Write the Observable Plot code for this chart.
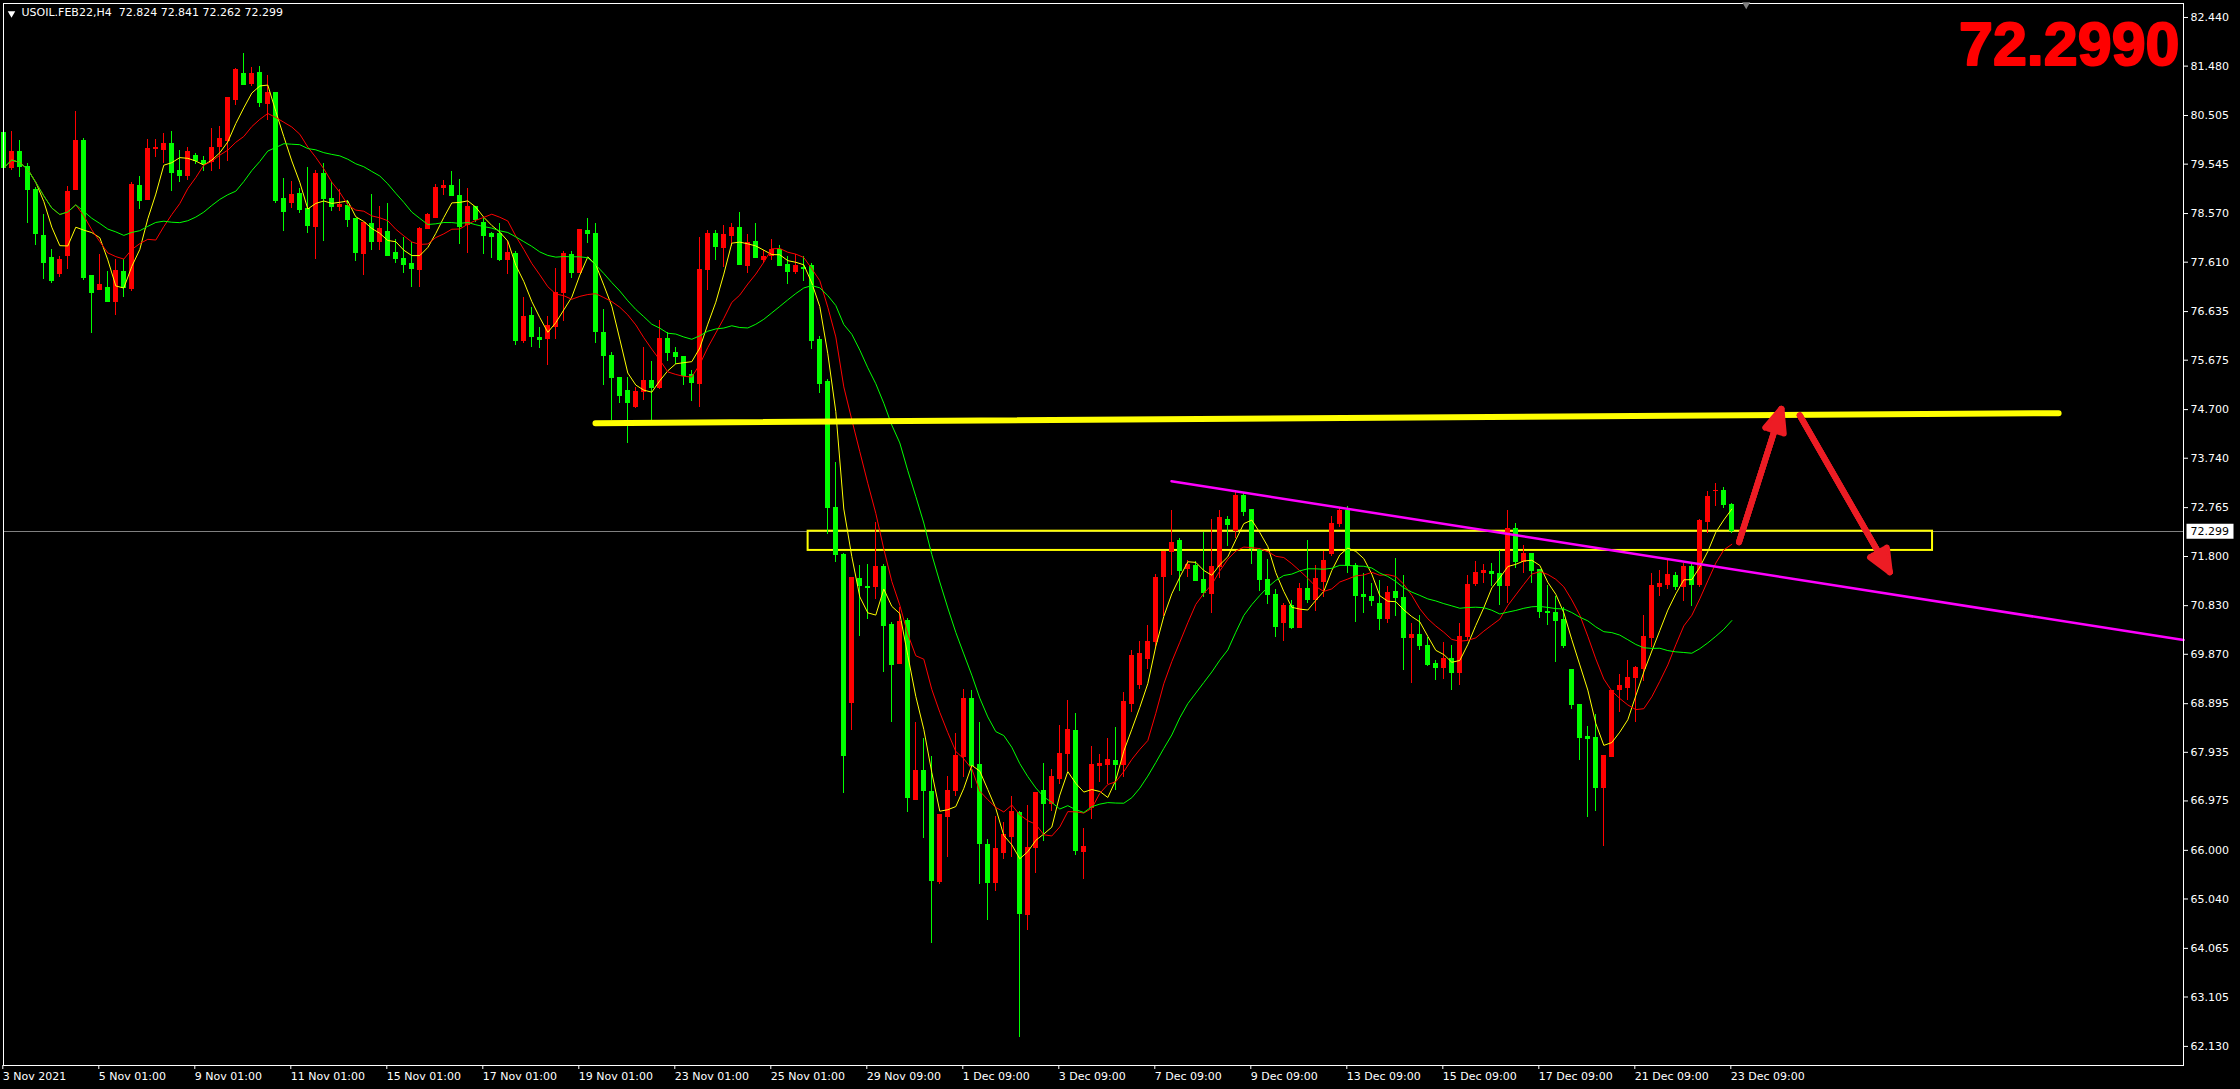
<!DOCTYPE html>
<html>
<head>
<meta charset="utf-8">
<script src="https://cdn.jsdelivr.net/npm/d3@7"></script>
<script src="https://cdn.jsdelivr.net/npm/@observablehq/plot@0.6"></script>
<style>
  html, body { margin: 0; padding: 0; background: #000; }
</style>
</head>
<body>
<div id="chart"></div>
<script>
// USOIL.FEB22 H4 candles, 3 Nov 2021 -> 23 Dec 2021 09:00
const opens = [
  80.16, 79.47, 79.78, 79.48, 79.03, 78.12, 77.70, 77.37, 77.73, 79.03,
  80.01, 77.33, 77.06, 77.11, 76.82, 77.41, 77.08, 79.12, 78.83, 79.84,
  79.82, 79.95, 79.40, 79.32, 79.70, 79.60, 79.58, 79.89, 80.01, 80.82,
  81.33, 81.12, 81.35, 80.73, 80.94, 78.85, 78.77, 78.95, 78.65, 78.30,
  79.36, 78.85, 78.70, 78.71, 78.47, 77.78, 78.37, 78.00, 78.20, 77.80,
  77.68, 77.57, 77.45, 78.26, 78.49, 79.07, 79.12, 78.91, 78.35, 78.69,
  78.39, 78.16, 78.16, 77.66, 77.78, 76.06, 76.54, 76.12, 76.09, 76.33,
  77.00, 77.76, 77.39, 78.22, 78.16, 76.22, 75.75, 75.33, 75.06, 74.76,
  75.05, 75.26, 75.12, 76.10, 75.81, 75.73, 75.39, 75.21, 77.45, 78.16,
  77.89, 78.12, 78.28, 77.53, 78.00, 77.66, 77.74, 77.86, 77.56, 77.41,
  77.49, 77.53, 76.08, 75.24, 72.75, 71.82, 68.90, 71.36, 71.20, 71.20,
  71.60, 70.45, 69.68, 70.52, 66.99, 67.56, 67.16, 65.37, 66.65, 67.17,
  67.84, 68.98, 67.69, 66.11, 65.35, 65.95, 66.27, 66.73, 64.73, 66.05,
  67.17, 66.92, 67.41, 67.90, 68.35, 65.96, 66.84, 67.67, 67.69, 67.76,
  67.69, 68.88, 69.26, 69.78, 70.12, 71.39, 71.88, 72.10, 71.55, 71.62,
  71.33, 71.06, 71.59, 72.53, 72.31, 72.985, 72.71, 71.92, 71.33, 71.05,
  70.48, 70.82, 70.39, 71.15, 70.95, 71.29, 71.84, 72.45, 72.69, 71.62,
  71.05, 71.01, 70.87, 70.56, 71.09, 70.98, 70.19, 70.26, 70.04, 69.67,
  69.60, 69.77, 69.50, 70.21, 71.25, 71.47, 71.50, 71.46, 71.21, 72.35,
  71.70, 71.85, 71.54, 70.71, 70.69, 70.54, 69.56, 68.86, 68.23, 68.21,
  67.23, 67.85, 69.16, 69.21, 69.40, 69.57, 70.19, 71.19, 71.23, 71.41,
  71.20, 71.60, 71.23, 72.48, 73.09, 73.10, 72.824
];
const highs = [
  80.24, 80.19, 80.01, 79.55, 79.09, 78.55, 77.87, 77.72, 79.11, 80.58,
  80.06, 77.33, 77.76, 77.43, 77.66, 77.66, 79.19, 79.31, 80.03, 80.03,
  80.15, 80.19, 79.82, 79.87, 79.76, 79.70, 80.25, 80.29, 80.87, 81.43,
  81.73, 81.45, 81.47, 81.30, 80.94, 79.26, 79.20, 79.07, 79.48, 79.42,
  79.56, 79.18, 79.05, 78.83, 78.47, 78.39, 78.95, 78.71, 78.77, 78.06,
  78.10, 78.00, 78.30, 78.57, 79.14, 79.22, 79.40, 79.24, 79.07, 78.69,
  78.47, 78.19, 78.37, 78.02, 77.82, 76.91, 76.71, 76.33, 76.54, 77.48,
  77.83, 77.83, 78.24, 78.47, 78.37, 76.67, 75.83, 75.33, 75.34, 75.14,
  75.93, 75.64, 76.46, 76.22, 75.93, 75.73, 75.47, 78.09, 78.24, 78.24,
  78.33, 78.37, 78.59, 78.16, 78.38, 77.84, 78.06, 77.94, 77.72, 77.76,
  77.72, 77.58, 76.14, 75.30, 73.66, 71.86, 71.37, 71.63, 71.64, 72.47,
  71.64, 70.49, 70.80, 70.57, 68.52, 68.20, 67.85, 66.69, 67.46, 68.30,
  69.17, 69.16, 68.52, 66.22, 66.67, 66.54, 67.07, 66.76, 66.88, 67.14,
  67.71, 67.59, 68.46, 68.95, 68.71, 66.44, 68.05, 67.90, 68.20, 68.43,
  69.11, 69.95, 70.12, 70.44, 71.45, 71.90, 72.71, 72.16, 71.72, 71.71,
  72.28, 72.54, 72.71, 72.58, 73.10, 73.07, 72.71, 71.95, 71.75, 71.14,
  70.87, 70.94, 71.27, 72.12, 71.62, 71.89, 72.58, 72.74, 72.79, 71.66,
  71.46, 71.26, 71.33, 71.21, 71.77, 71.42, 70.47, 70.64, 70.21, 69.75,
  70.11, 70.04, 70.47, 71.43, 71.70, 71.64, 71.67, 71.92, 72.71, 72.45,
  72.02, 71.85, 71.54, 71.23, 71.01, 70.80, 69.56, 68.86, 68.44, 68.68,
  67.87, 69.14, 69.47, 69.75, 69.62, 70.64, 71.46, 71.52, 71.73, 71.49,
  71.66, 71.64, 72.53, 73.08, 73.25, 73.17, 72.841
];
const lows = [
  79.42, 79.41, 79.29, 78.38, 77.94, 77.26, 77.18, 77.30, 77.47, 79.03,
  77.24, 76.20, 77.06, 76.82, 76.55, 76.92, 77.04, 78.65, 78.83, 79.67,
  79.56, 79.01, 79.19, 79.23, 79.54, 79.39, 79.39, 79.43, 79.60, 80.71,
  81.10, 81.08, 80.67, 80.41, 78.76, 78.22, 78.66, 78.57, 78.18, 77.66,
  78.02, 78.61, 78.62, 78.30, 77.63, 77.35, 77.84, 77.84, 77.74, 77.58,
  77.39, 77.11, 77.11, 78.26, 78.49, 78.93, 78.91, 77.96, 77.78, 78.39,
  77.76, 77.68, 77.62, 77.37, 75.97, 76.01, 75.93, 75.90, 75.57, 76.08,
  76.43, 77.29, 77.39, 77.97, 76.01, 75.18, 74.49, 74.83, 74.04, 74.72,
  74.87, 74.49, 75.10, 75.64, 75.59, 75.18, 74.85, 74.75, 77.05, 77.64,
  77.50, 77.91, 77.55, 77.39, 77.69, 77.59, 77.64, 77.53, 77.16, 77.37,
  77.22, 75.88, 75.01, 72.24, 71.69, 67.13, 68.37, 70.22, 70.56, 70.96,
  69.51, 68.52, 69.68, 66.74, 66.99, 66.23, 64.16, 65.33, 65.86, 67.07,
  67.44, 67.22, 65.33, 64.61, 65.18, 65.82, 65.86, 62.30, 64.42, 65.55,
  66.17, 66.76, 67.29, 67.56, 65.89, 65.43, 66.60, 67.33, 67.29, 67.18,
  67.44, 68.73, 69.18, 69.57, 70.01, 70.62, 71.42, 71.10, 71.38, 71.31,
  71.00, 70.68, 71.36, 71.99, 72.15, 72.58, 71.64, 71.10, 70.85, 70.21,
  70.13, 70.36, 70.39, 70.88, 70.72, 71.00, 71.80, 72.37, 71.46, 70.50,
  70.67, 70.82, 70.33, 70.48, 70.62, 69.55, 69.29, 69.94, 69.63, 69.35,
  69.37, 69.16, 69.25, 70.14, 71.20, 71.26, 71.20, 70.83, 70.87, 71.57,
  71.46, 71.27, 70.58, 70.44, 69.70, 69.98, 68.79, 67.77, 66.64, 66.77,
  66.08, 67.83, 68.73, 68.96, 68.52, 69.34, 70.01, 71.01, 71.14, 71.12,
  70.91, 70.81, 71.18, 72.26, 72.79, 72.75, 72.262
];
const closes = [
  79.47, 79.78, 79.48, 79.03, 78.16, 77.59, 77.24, 77.66, 79.00, 80.01,
  77.30, 77.00, 77.15, 76.82, 77.43, 77.10, 79.13, 78.82, 79.85, 79.87,
  79.95, 79.38, 79.32, 79.78, 79.60, 79.55, 79.87, 80.05, 80.85, 81.41,
  81.10, 81.33, 80.75, 80.94, 78.81, 78.61, 78.93, 78.63, 78.32, 79.36,
  78.85, 78.69, 78.74, 78.45, 77.80, 78.39, 78.00, 78.26, 77.74, 77.68,
  77.55, 77.47, 78.26, 78.54, 79.07, 79.12, 78.91, 78.31, 78.69, 78.45,
  78.12, 78.10, 77.66, 77.80, 76.06, 76.52, 76.13, 76.07, 76.35, 77.01,
  77.78, 77.39, 78.24, 78.16, 76.23, 75.76, 75.32, 74.97, 74.83, 75.04,
  75.26, 75.12, 76.10, 75.81, 75.73, 75.37, 75.22, 77.45, 78.16, 77.90,
  78.14, 78.28, 77.55, 77.99, 77.69, 77.72, 77.85, 77.53, 77.41, 77.53,
  77.47, 76.06, 75.20, 72.75, 71.82, 67.86, 71.37, 71.22, 71.17, 71.60,
  70.43, 69.66, 70.51, 67.03, 67.56, 67.18, 65.40, 66.69, 67.18, 67.87,
  68.98, 67.67, 66.12, 65.35, 66.02, 66.30, 66.76, 64.74, 66.05, 67.14,
  66.92, 67.44, 67.90, 68.37, 65.98, 66.06, 67.69, 67.71, 67.78, 67.69,
  68.92, 69.84, 69.88, 70.12, 71.37, 71.88, 72.07, 71.52, 71.64, 71.31,
  71.08, 71.60, 72.56, 72.42, 72.985, 72.68, 71.95, 71.33, 71.04, 70.40,
  70.83, 70.39, 71.15, 70.95, 71.35, 71.72, 72.45, 72.69, 71.62, 71.03,
  71.00, 70.92, 70.56, 71.08, 70.98, 70.19, 70.26, 70.04, 69.65, 69.60,
  69.77, 69.50, 70.22, 71.23, 71.48, 71.52, 71.45, 71.21, 72.35, 71.70,
  71.85, 71.52, 70.70, 70.68, 70.52, 70.03, 68.86, 68.21, 68.19, 67.23,
  67.87, 69.14, 69.24, 69.41, 69.60, 70.21, 71.21, 71.26, 71.43, 71.20,
  71.60, 71.23, 72.50, 72.97, 73.10, 72.81, 72.299
];

// time axis: a label every 12 bars
const tickBars = [0, 12, 24, 36, 48, 60, 72, 84, 96, 108, 120, 132, 144, 156, 168, 180, 192, 204, 216];
const tickLabels = [
  "3 Nov 2021", "5 Nov 01:00", "9 Nov 01:00", "11 Nov 01:00", "15 Nov 01:00",
  "17 Nov 01:00", "19 Nov 01:00", "23 Nov 01:00", "25 Nov 01:00", "29 Nov 09:00",
  "1 Dec 09:00", "3 Dec 09:00", "7 Dec 09:00", "9 Dec 09:00", "13 Dec 09:00",
  "15 Dec 09:00", "17 Dec 09:00", "21 Dec 09:00", "23 Dec 09:00"
];
const priceTicks = [
  82.44, 81.48, 80.505, 79.545, 78.57, 77.61, 76.635, 75.675, 74.7, 73.74, 72.765,
  71.8, 70.83, 69.87, 68.895, 67.935, 66.975, 66.0, 65.04, 64.065, 63.105, 62.13
];

// drawn objects (bar index, price)
const resistance = [{bar: 73.96, price: 74.432}, {bar: 256.85, price: 74.629}];
const trendline = [{bar: 145.96, price: 73.287}, {bar: 272.46, price: 70.15}];
const zone = [{bar1: 100.54, bar2: 241.09, top: 72.30, bottom: 71.92}];
const arrows = [
  {bar1: 216.9, p1: 72.083, bar2: 222.2, p2: 74.716},
  {bar1: 224.5, p1: 74.584, bar2: 235.75, p2: 71.49}
];
const shiftMarker = [217.8];

const title = "USOIL.FEB22,H4  72.824 72.841 72.262 72.299";
const lastPrice = closes[closes.length - 1];

const candles = d3.range(closes.length).map(i => ({
  i, open: opens[i], high: highs[i], low: lows[i], close: closes[i]
}));
const candleColor = d => d.close >= d.open ? "#ff0000" : "#00ff00";
const labelOf = new Map(tickBars.map((b, k) => [b, tickLabels[k]]));

// white price tag on the axis
const tagSymbol = {draw(ctx) { ctx.rect(-23.5, -7.5, 47, 15); }};

const arrowHeads = [46, 32, 18];

let chart = Plot.plot({
  width: 2240,
  height: 1089,
  marginLeft: 3,
  marginTop: 3,
  marginRight: 57,
  marginBottom: 24,
  style: {background: "#000", color: "#fff", fontFamily: "DejaVu Sans", fontSize: "11px"},
  x: {type: "linear", domain: [-0.0375, 272.46], axis: null},
  y: {domain: [61.753, 82.716], axis: null},
  color: {type: "identity"},
  marks: [
    Plot.ruleY([lastPrice], {stroke: "#808080", strokeWidth: 1, shapeRendering: "crispEdges"}),
    Plot.rect(zone, {x1: "bar1", x2: "bar2", y1: "top", y2: "bottom", fill: "none", stroke: "#ffff00", strokeWidth: 2}),
    // candles
    Plot.ruleX(candles, {x: "i", y1: "low", y2: "high", stroke: candleColor, strokeWidth: 1, shapeRendering: "crispEdges"}),
    Plot.rect(candles, {
      x1: d => d.i - 0.3, x2: d => d.i + 0.3, y1: "open", y2: "close",
      fill: candleColor, insetTop: -0.5, insetBottom: -0.5, shapeRendering: "crispEdges"
    }),
    // moving averages 5 / 10 / 20
    Plot.lineY(candles, Plot.windowY({k: 5, anchor: "end"}, {x: "i", y: "close", stroke: "#ffff00", strokeWidth: 1})),
    Plot.lineY(candles, Plot.windowY({k: 10, anchor: "end"}, {x: "i", y: "close", stroke: "#ff0000", strokeWidth: 1})),
    Plot.lineY(candles, Plot.windowY({k: 20, anchor: "end"}, {x: "i", y: "close", stroke: "#00ff00", strokeWidth: 1})),
    // drawings
    Plot.line(trendline, {x: "bar", y: "price", stroke: "#ff00ff", strokeWidth: 2.5}),
    Plot.line(resistance, {x: "bar", y: "price", stroke: "#ffff00", strokeWidth: 6, strokeLinecap: "round"}),
    ...arrowHeads.map(a => Plot.arrow(arrows, {
      x1: "bar1", y1: "p1", x2: "bar2", y2: "p2",
      stroke: "#ed1c24", strokeWidth: 6, strokeLinecap: "round",
      headAngle: a, headLength: 6.2 * Math.cos(23 * Math.PI / 180) / Math.cos(a / 2 * Math.PI / 180)
    })),
    // axes and frame
    Plot.frame({stroke: "#fff", shapeRendering: "crispEdges"}),
    Plot.axisX({
      ticks: tickBars, tickFormat: d => labelOf.get(d), anchor: "bottom",
      tickSize: 4, tickPadding: 3, textAnchor: "start", dx: -1, label: null
    }),
    Plot.axisY({
      ticks: priceTicks, tickFormat: d => d.toFixed(3), anchor: "right",
      tickSize: 4, tickPadding: 3, label: null
    }),
    Plot.dot([lastPrice], {y: d => d, frameAnchor: "right", dx: 26.5, symbol: tagSymbol, fill: "#fff", stroke: "none"}),
    Plot.text([lastPrice], {y: d => d, frameAnchor: "right", dx: 7, text: d => d.toFixed(3), textAnchor: "start", fill: "#000"}),
    // header texts
    Plot.dot([0], {frameAnchor: "top-left", dx: 8, dy: 10, symbol: "triangle", rotate: 180, r: 2.8, fill: "#fff", stroke: "none"}),
    Plot.text([title], {frameAnchor: "top-left", text: d => d, dx: 18, dy: 5, lineAnchor: "top", textAnchor: "start", fill: "#fff"}),
    Plot.text([lastPrice], {
      frameAnchor: "top-right", text: d => d.toFixed(4), dx: -4, dy: 18.5, lineAnchor: "top", textAnchor: "end",
      fill: "#ff0000", stroke: "#ff0000", strokeWidth: 2, fontSize: 61, fontWeight: "bold", fontFamily: "Liberation Sans"
    }),
    Plot.dot(shiftMarker, {x: d => d, frameAnchor: "top", dy: 1, symbol: "triangle", rotate: 180, r: 3, fill: "#808080", stroke: "none"})
  ]
})

d3.select('#chart').append(() => chart)
</script>
</body>
</html>
